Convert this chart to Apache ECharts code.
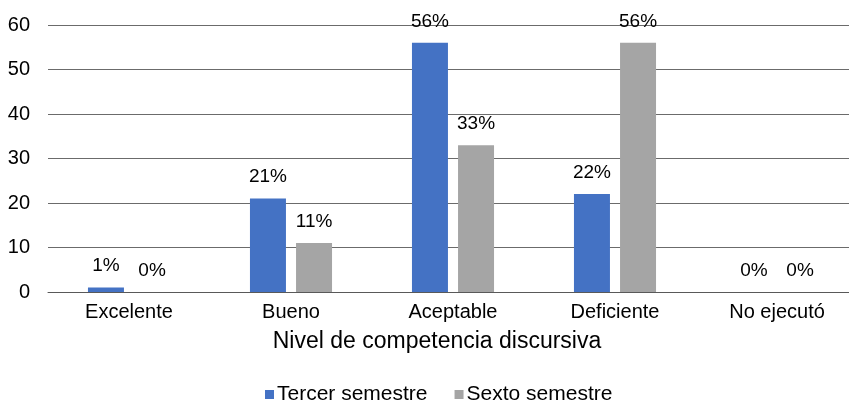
<!DOCTYPE html>
<html><head><meta charset="utf-8">
<script src="https://cdn.jsdelivr.net/npm/echarts@6/dist/echarts.min.js"></script>
<style>html,body{margin:0;padding:0;background:#fff}#c{width:849px;height:403px}</style>
</head><body><div id="c"></div>
<script>
const categories = ['Excelente', 'Bueno', 'Aceptable', 'Deficiente', 'No ejecutó'];
const tercer = [1, 21, 56, 22, 0];
const sexto = [0, 11, 33, 56, 0];
const seriesNames = ['Tercer semestre', 'Sexto semestre'];
const axisTitle = 'Nivel de competencia discursiva';

const font = 'Liberation Sans, Arial, Helvetica, sans-serif';
const chart = echarts.init(document.getElementById('c'));
const lbl = {show: true, position: 'top', distance: 12, formatter: p => p.value + '%', color: '#000', fontSize: 19, fontFamily: font};
chart.setOption({
  animation: false,
  grid: {left: 48, top: 25, width: 810, height: 267, containLabel: false, outerBoundsMode: 'none'},
  legend: {top: 384, left: 265, itemWidth: 9, itemHeight: 9, itemGap: 27, icon: 'rect', padding: 0,
    textStyle: {fontSize: 21, fontFamily: font, color: '#000', padding: [0, 0, 0, -2]}},
  xAxis: {type: 'category', data: categories, name: axisTitle, nameLocation: 'middle', nameGap: 38,
    nameTextStyle: {fontSize: 23, fontFamily: font, color: '#000', padding: [0, 32, 0, 0]},
    axisLine: {lineStyle: {color: '#595959'}}, axisTick: {show: false},
    axisLabel: {fontSize: 20, fontFamily: font, color: '#000', margin: 10}},
  yAxis: {type: 'value', min: 0, max: 60, interval: 10,
    axisLabel: {fontSize: 20, fontFamily: font, color: '#000', margin: 18},
    splitLine: {lineStyle: {color: '#6b6b6b'}}},
  series: [
    {name: seriesNames[0], type: 'bar', data: tercer, barWidth: 36, barGap: '28%', itemStyle: {color: '#4472C4'}, label: lbl},
    {name: seriesNames[1], type: 'bar', data: sexto, barWidth: 36, itemStyle: {color: '#A5A5A5'}, label: lbl}
  ]
});
</script></body></html>
